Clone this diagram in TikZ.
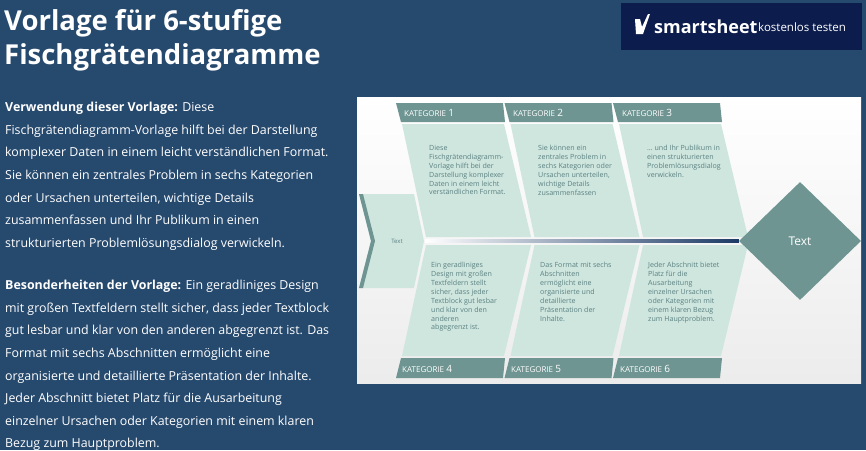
\documentclass[tikz,border=0pt]{standalone}
\usepackage{fontspec}
\setmainfont{Open Sans}
\usetikzlibrary{shapes.geometric,calc}
\definecolor{bgblue}{HTML}{26496E}
\definecolor{logonavy}{HTML}{0C1D4D}
\definecolor{katgreen}{HTML}{6E9592}
\definecolor{bodygreen}{HTML}{CFE6DF}
\definecolor{bodytext}{HTML}{5A8080}
\definecolor{spinenavy}{HTML}{1B3A66}
\tikzset{
  kathead/.style={fill=katgreen},
  katbody/.style={fill=bodygreen},
  katlabel/.style={text=white,font=\fontsize{8}{9}\selectfont,anchor=west,inner sep=0},
  bonetext/.style={text=bodytext,font=\fontsize{7.1}{8.9}\selectfont,align=left,anchor=north west,inner sep=0},
  leftpara/.style={text=white,font=\fontsize{12.4}{22.6}\selectfont,align=left,anchor=north west,inner sep=0}
}
\begin{document}
\begin{tikzpicture}[x=1pt,y=-1pt]
\useasboundingbox (0,0) rectangle (866,450);
\fill[bgblue] (0,0) rectangle (866,450);

% title and logo
\node[text=white,font=\fontsize{27.5}{34}\selectfont\bfseries,align=left,anchor=north west,inner sep=0] (title) at (4,9) {Vorlage für 6-stufige\\Fischgrätendiagramme};
\fill[logonavy] (621,3) rectangle (862,50);
\node[text=white,font=\fontsize{18}{20}\selectfont\bfseries,anchor=west,inner sep=0] (logo) at (654,27) {smartsheet};
\node[text=white,font=\fontsize{11.5}{13}\selectfont,anchor=west,inner sep=0] (logotest) at (758,27) {kostenlos testen};
\fill[white] (635,19) -- (640,19) -- (642,27) -- (648,14) -- (650,14) -- (643,34) -- (636,34) -- cycle;

% left column
\node[leftpara] (use) at (5,102) {\textbf{Verwendung dieser Vorlage:} Diese\\Fischgrätendiagramm-Vorlage hilft bei der Darstellung\\komplexer Daten in einem leicht verständlichen Format.\\Sie können ein zentrales Problem in sechs Kategorien\\oder Ursachen unterteilen, wichtige Details\\zusammenfassen und Ihr Publikum in einen\\strukturierten Problemlösungsdialog verwickeln.};
\node[leftpara] (feat) at (5,280) {\textbf{Besonderheiten der Vorlage:} Ein geradliniges Design\\mit großen Textfeldern stellt sicher, dass jeder Textblock\\gut lesbar und klar von den anderen abgegrenzt ist. Das\\Format mit sechs Abschnitten ermöglicht eine\\organisierte und detaillierte Präsentation der Inhalte.\\Jeder Abschnitt bietet Platz für die Ausarbeitung\\einzelner Ursachen oder Kategorien mit einem klaren\\Bezug zum Hauptproblem.};

% diagram panel
\shade[top color=white,bottom color=gray!15] (357,97) rectangle (861,383);

% bones
\foreach \i in {0,1,2}{
  \pgfmathsetmacro{\d}{108.5*\i}
  \fill[kathead] (396+\d,103) -- (503+\d,103) -- (505+\d,122) -- (401+\d,122) -- cycle;
  \fill[katbody] (402+\d,124) -- (504+\d,124) -- (531+\d,237) -- (426+\d,237) -- cycle;
  \fill[katbody] (426+\d,245) -- (531+\d,245) -- (504+\d,356) -- (402+\d,356) -- cycle;
  \fill[kathead] (401+\d,358) -- (505+\d,358) -- (503+\d,378) -- (396+\d,378) -- cycle;
}
\node[katlabel] (k1) at (404,113) {KATEGORIE \fontsize{10}{10}\selectfont 1};
\node[katlabel] (k2) at (513,113) {KATEGORIE \fontsize{10}{10}\selectfont 2};
\node[katlabel] (k3) at (622,113) {KATEGORIE \fontsize{10}{10}\selectfont 3};
\node[katlabel] (k4) at (402,369) {KATEGORIE \fontsize{10}{10}\selectfont 4};
\node[katlabel] (k5) at (511,369) {KATEGORIE \fontsize{10}{10}\selectfont 5};
\node[katlabel] (k6) at (620,369) {KATEGORIE \fontsize{10}{10}\selectfont 6};

\node[bonetext] (t1) at (429,145) {Diese\\Fischgrätendiagramm-\\Vorlage hilft bei der\\Darstellung komplexer\\Daten in einem leicht\\verständlichen Format.};
\node[bonetext] (t2) at (538,145) {Sie können ein\\zentrales Problem in\\sechs Kategorien oder\\Ursachen unterteilen,\\wichtige Details\\zusammenfassen};
\node[bonetext] (t3) at (647,145) {… und Ihr Publikum in\\einen strukturierten\\Problemlösungsdialog\\verwickeln.};
\node[bonetext] (t4) at (431,262) {Ein geradliniges\\Design mit großen\\Textfeldern stellt\\sicher, dass jeder\\Textblock gut lesbar\\und klar von den\\anderen\\abgegrenzt ist.};
\node[bonetext] (t5) at (540,262) {Das Format mit sechs\\Abschnitten\\ermöglicht eine\\organisierte und\\detaillierte\\Präsentation der\\Inhalte.};
\node[bonetext] (t6) at (648,262) {Jeder Abschnitt bietet\\Platz für die\\Ausarbeitung\\einzelner Ursachen\\oder Kategorien mit\\einem klaren Bezug\\zum Hauptproblem.};

% head, spine and problem
\fill[bodygreen] (359,194) -- (414,194) -- (424,241) -- (414,288) -- (359,288) -- (371,241) -- cycle;
\fill[katgreen] (359,194) -- (363,194) -- (375,241) -- (363,288) -- (359,288) -- (371,241) -- cycle;
\node[text=bodytext,font=\fontsize{6}{7}\selectfont,inner sep=0] (head) at (397,241) {Text};
\coordinate (tail) at (425,241);
\node[diamond,fill=katgreen,minimum width=122pt,minimum height=118pt,inner sep=0,text=white,font=\fontsize{12}{13}\selectfont] (prob) at (800,241) {Text};
\shade[left color=white,right color=spinenavy] ($(tail)+(0,-1.6)$) rectangle ($(prob.west)+(0,1.6)$);
\end{tikzpicture}
\end{document}
